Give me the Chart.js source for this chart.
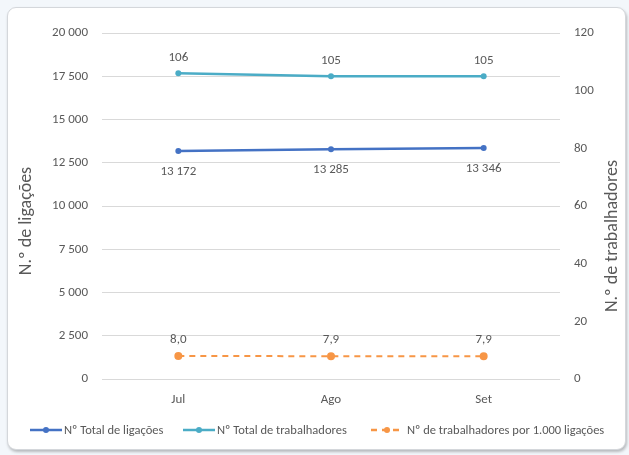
<!DOCTYPE html>
<html>
<head>
<meta charset="utf-8">
<script src="https://cdn.jsdelivr.net/npm/chart.js@4.4.1/dist/chart.umd.min.js"></script>
<style>
  html, body { margin: 0; padding: 0; }
  body { width: 629px; height: 455px; background: #f3f7fb; position: relative; overflow: hidden; }
  #card { position: absolute; left: 7px; top: 7px; width: 617px; height: 441px; background: #fff;
          border: 1px solid #d4d7db; border-radius: 9px; box-shadow: 1px 2px 3px rgba(0,0,0,0.25); }
  #wrap { position: absolute; left: 0; top: 0; width: 629px; height: 455px; }
</style>
</head>
<body>
<div id="card"></div>
<div id="wrap"><canvas id="chart" width="629" height="455"></canvas></div>
<script>
const months = ['Jul', 'Ago', 'Set'];
const totalLigacoes = [13172, 13285, 13346];
const totalTrabalhadores = [106, 105, 105];
const trabPor1000 = [8.0, 7.9, 7.9];
const leftTicks = [0, 2500, 5000, 7500, 10000, 12500, 15000, 17500, 20000];
const rightTicks = [0, 20, 40, 60, 80, 100, 120];

const FONT = 'Carlito, Calibri, Lato, sans-serif';
const GRAY = '#595959';
const C_DARK = '#4472C4';
const C_LIGHT = '#4BACC6';
const C_ORANGE = '#F79646';

function fmtThousands(v) {
  return String(Math.round(v)).replace(/\B(?=(\d{3})+(?!\d))/g, ' ');
}
function fmtDecimal(v) {
  return v.toFixed(1).replace('.', ',');
}

// value labels next to each point
const valueLabels = {
  id: 'valueLabels',
  afterDatasetsDraw(chart) {
    const ctx = chart.ctx;
    ctx.save();
    ctx.font = '13px ' + FONT;
    ctx.fillStyle = GRAY;
    ctx.textAlign = 'center';
    ctx.textBaseline = 'middle';
    chart.data.datasets.forEach((ds, i) => {
      const meta = chart.getDatasetMeta(i);
      meta.data.forEach((pt, j) => {
        ctx.fillText(ds.labelFmt(ds.data[j]), pt.x, pt.y + ds.labelOffset);
      });
    });
    ctx.restore();
  }
};

// rotated axis titles, both reading bottom-to-top
const axisTitles = {
  id: 'axisTitles',
  afterDraw(chart) {
    const ctx = chart.ctx;
    ctx.save();
    ctx.font = '18px ' + FONT;
    ctx.fillStyle = GRAY;
    ctx.textAlign = 'center';
    ctx.textBaseline = 'middle';
    [[26, 221, 'N.º de ligações'], [612, 236, 'N.º de trabalhadores']].forEach(([x, y, t]) => {
      ctx.save();
      ctx.translate(x, y);
      ctx.rotate(-Math.PI / 2);
      ctx.fillText(t, 0, 0);
      ctx.restore();
    });
    ctx.restore();
  }
};

// legend row with line + marker samples
const legendStarts = [30, 183, 371];
const legendRow = {
  id: 'legendRow',
  afterDraw(chart) {
    const ctx = chart.ctx;
    const y = 430;
    ctx.save();
    ctx.font = '12.5px ' + FONT;
    ctx.textBaseline = 'middle';
    ctx.textAlign = 'left';
    const sampleW = 32, gap = 2;
    chart.data.datasets.forEach((ds, i) => {
      const x = legendStarts[i];
      ctx.save();
      ctx.strokeStyle = ds.borderColor;
      ctx.lineWidth = 2.5;
      ctx.setLineDash(ds.borderDash || []);
      ctx.beginPath();
      ctx.moveTo(x, y);
      ctx.lineTo(x + sampleW, y);
      ctx.stroke();
      ctx.setLineDash([]);
      ctx.fillStyle = ds.borderColor;
      ctx.beginPath();
      ctx.arc(x + sampleW / 2, y, 3, 0, Math.PI * 2);
      ctx.fill();
      ctx.restore();
      ctx.fillStyle = GRAY;
      ctx.fillText(ds.label, x + sampleW + gap + (ds.borderDash ? 2 : 0), y + 0.5);
    });
    ctx.restore();
  }
};

new Chart(document.getElementById('chart'), {
  type: 'line',
  data: {
    labels: months,
    datasets: [
      {
        label: 'Nº Total de ligações',
        data: totalLigacoes,
        yAxisID: 'y',
        borderColor: C_DARK,
        backgroundColor: C_DARK,
        labelFmt: fmtThousands,
        labelOffset: 21
      },
      {
        label: 'Nº Total de trabalhadores',
        data: totalTrabalhadores,
        yAxisID: 'y1',
        borderColor: C_LIGHT,
        backgroundColor: C_LIGHT,
        labelFmt: v => String(v),
        labelOffset: -16
      },
      {
        label: 'Nº de trabalhadores por 1.000 ligações',
        data: trabPor1000,
        yAxisID: 'y1',
        borderColor: C_ORANGE,
        backgroundColor: C_ORANGE,
        borderDash: [6, 5],
        borderWidth: 2,
        labelFmt: fmtDecimal,
        labelOffset: -16
      }
    ]
  },
  options: {
    responsive: false,
    animation: false,
    devicePixelRatio: 1,
    layout: { padding: { top: 33, bottom: 40, left: 0, right: 0 } },
    elements: {
      line: { borderWidth: 2.5, tension: 0 },
      point: { radius: 3, borderWidth: 0, hoverRadius: 3 }
    },
    plugins: {
      legend: { display: false },
      tooltip: { enabled: false }
    },
    scales: {
      x: {
        offset: true,
        grid: { display: false },
        border: { display: false },
        ticks: { color: GRAY, font: { family: FONT, size: 13 }, padding: 5 },
        afterFit(s) { s.height = 36; }
      },
      y: {
        position: 'left',
        min: 0, max: 20000,
        afterBuildTicks(s) { s.ticks = leftTicks.map(v => ({ value: v })); },
        grid: { color: '#d9d9d9', lineWidth: 1, drawTicks: false },
        border: { display: false },
        ticks: { color: GRAY, font: { family: FONT, size: 13 }, padding: 14, callback: v => fmtThousands(v) },
        afterFit(s) { s.width = 102; }
      },
      y1: {
        position: 'right',
        min: 0, max: 120,
        afterBuildTicks(s) { s.ticks = rightTicks.map(v => ({ value: v })); },
        grid: { display: false, drawTicks: false },
        border: { display: false },
        ticks: { color: GRAY, font: { family: FONT, size: 13 }, padding: 14 },
        afterFit(s) { s.width = 69; }
      }
    }
  },
  plugins: [valueLabels, axisTitles, legendRow]
});
</script>
</body>
</html>
